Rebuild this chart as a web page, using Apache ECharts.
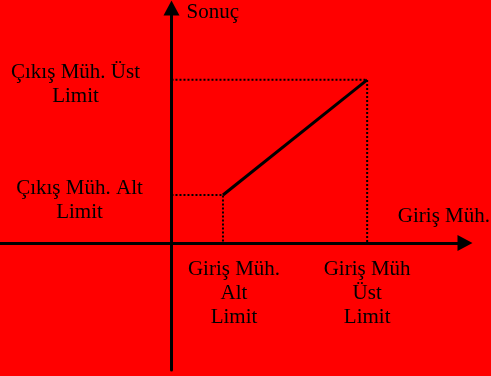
<!DOCTYPE html>
<html>
<head>
<meta charset="utf-8">
<script src="https://cdn.jsdelivr.net/npm/echarts@6/dist/echarts.min.js"></script>
<style>
html,body{margin:0;padding:0;background:#ff0000;}
#main{width:491px;height:376px;}
</style>
</head>
<body>
<div id="main"></div>
<script>
// girdi (x) ve çıktı (y) limitleri, kavramsal birimler
var inputLimits = [1, 3.8];
var outputLimits = [1, 3.4];
var inputLabels = ['Giriş Müh.\nAlt\nLimit', 'Giriş Müh\nÜst\nLimit'];
var outputLabels = ['Çıkış Müh. Alt\nLimit', 'Çıkış Müh. Üst\nLimit'];
var xName = 'Giriş Müh.';
var yName = 'Sonuç';

var font = "'Liberation Serif', 'Times New Roman', serif";

function labelFor(values, texts, prefix){
    return function(v){
        for (var i = 0; i < values.length; i++) {
            if (Math.abs(values[i] - v) < 1e-6) {
                return texts[i].split('\n').map(function(line){
                    return '{' + prefix + i + '|' + line + '}';
                }).join('\n');
            }
        }
        return '';
    };
}

function txt(extra){
    var s = {color: '#000', fontFamily: font, fontSize: 21, lineHeight: 24};
    for (var k in extra) s[k] = extra[k];
    return s;
}

var myChart = echarts.init(document.getElementById('main'));
var option = {
    backgroundColor: '#ff0000',
    animation: false,
    grid: {
        left: 0,
        right: 26,
        top: 8,
        bottom: 6,
        containLabel: false,
        outerBoundsMode: 'none'
    },
    xAxis: {
        type: 'value',
        min: -3.33,
        max: 5.7,
        position: 'bottom',
        offset: -127,
        name: xName,
        nameLocation: 'end',
        nameGap: 25,
        nameTextStyle: {
            color: '#000',
            fontFamily: font,
            fontSize: 21,
            align: 'right',
            verticalAlign: 'bottom',
            padding: [0, 0, 16, 0]
        },
        axisLine: {
            onZero: false,
            symbol: ['none', 'triangle'],
            symbolSize: [16, 15],
            lineStyle: {color: '#000', width: 3}
        },
        axisTick: {show: false},
        splitLine: {show: false},
        axisLabel: {
            customValues: inputLimits,
            formatter: labelFor(inputLimits, inputLabels, 'x'),
            color: '#000',
            fontFamily: font,
            fontSize: 21,
            lineHeight: 24,
            margin: 14,
            rich: {
                x0: txt({padding: [0, 0, 0, 22]}),
                x1: txt({})
            }
        }
    },
    yAxis: {
        type: 'value',
        min: -2.646,
        max: 4.896,
        position: 'left',
        offset: -171.5,
        name: yName,
        nameLocation: 'end',
        nameGap: -4,
        nameTextStyle: {
            color: '#000',
            fontFamily: font,
            fontSize: 21,
            align: 'left',
            verticalAlign: 'middle',
            padding: [0, 0, 0, 15]
        },
        axisLine: {
            onZero: false,
            symbol: ['none', 'triangle'],
            symbolSize: [16, 15],
            lineStyle: {color: '#000', width: 3}
        },
        axisTick: {show: false},
        splitLine: {show: false},
        axisLabel: {
            customValues: outputLimits,
            formatter: labelFor(outputLimits, outputLabels, 'y'),
            color: '#000',
            fontFamily: font,
            fontSize: 21,
            lineHeight: 24,
            align: 'center',
            margin: 95,
            padding: [10, 0, 0, 0],
            rich: {
                y0: txt({padding: [0, 0, 0, 6]}),
                y1: txt({padding: [0, 2, 0, 0]})
            }
        }
    },
    series: [
        {
            // alt limit kılavuz çizgisi
            type: 'line',
            symbol: 'none',
            z: 1,
            lineStyle: {color: '#000', width: 2, type: [2, 2]},
            data: [[0, outputLimits[0]], [inputLimits[0], outputLimits[0]], [inputLimits[0], 0]]
        },
        {
            // üst limit kılavuz çizgisi
            type: 'line',
            symbol: 'none',
            z: 1,
            lineStyle: {color: '#000', width: 2, type: [2, 2]},
            data: [[0, outputLimits[1]], [inputLimits[1], outputLimits[1]], [inputLimits[1], 0]]
        },
        {
            type: 'line',
            symbol: 'none',
            z: 3,
            lineStyle: {color: '#000', width: 3},
            data: [[inputLimits[0], outputLimits[0]], [inputLimits[1], outputLimits[1]]]
        }
    ]
};

myChart.setOption(option);
</script>
</body>
</html>
